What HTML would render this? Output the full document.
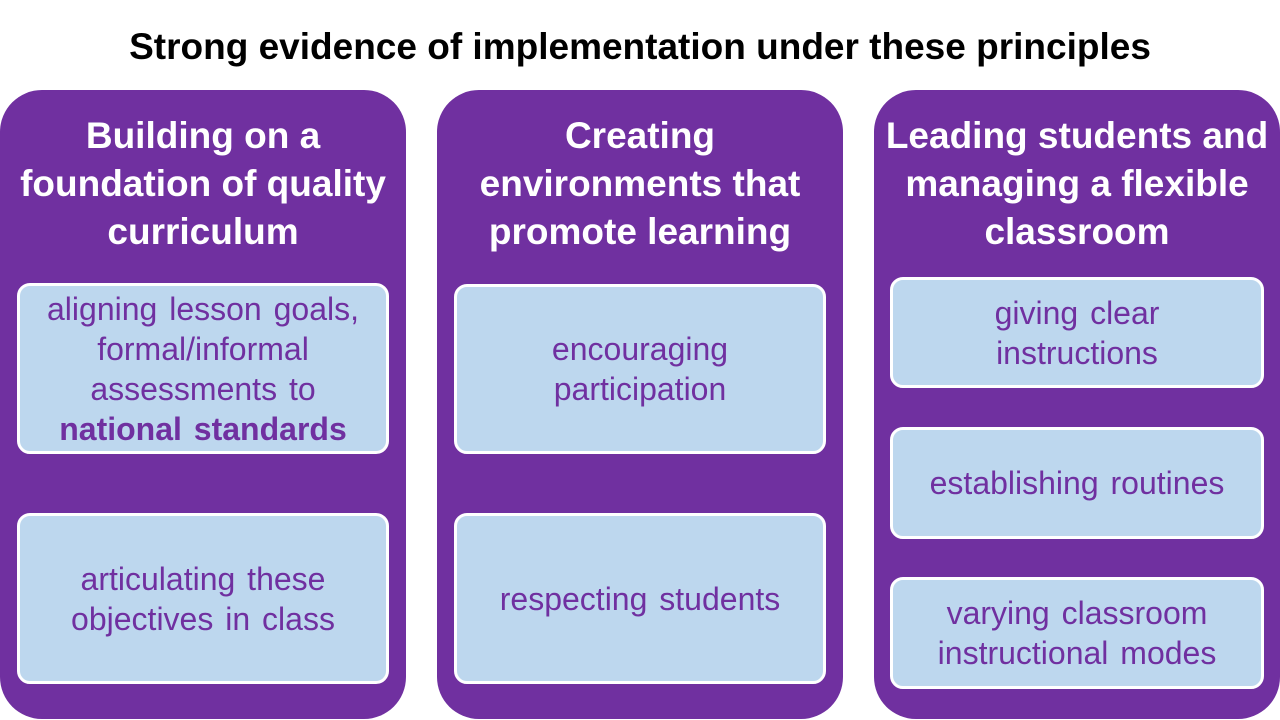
<!DOCTYPE html>
<html><head><meta charset="utf-8"><style>
body{margin:0;width:1280px;height:720px;background:#fff;position:relative;overflow:hidden;font-family:"Liberation Sans",sans-serif}
.t{position:absolute;left:0;width:1280px;top:26px;text-align:center;font-weight:bold;font-size:37px;line-height:42px;color:#000}
.col{position:absolute;top:90px;width:406px;height:629px;background:#7030A0;border-radius:42px}
.h{position:absolute;left:0;width:100%;top:112px;text-align:center;color:#fff;font-weight:bold;font-size:37px;line-height:48px;white-space:nowrap}
.b{position:absolute;background:#BDD7EE;border:3px solid #fff;border-radius:13px;box-sizing:border-box;display:flex;align-items:center;justify-content:center;text-align:center;color:#7030A0;font-size:32px;line-height:40px;word-spacing:3px;white-space:nowrap}
</style></head><body>
<div class="t">Strong evidence of implementation under these principles</div>
<div class="col" style="left:0"></div>
<div class="col" style="left:437px"></div>
<div class="col" style="left:874px"></div>
<div class="h" style="left:0;width:406px">Building on a<br>foundation of quality<br>curriculum</div>
<div class="h" style="left:437px;width:406px">Creating<br>environments that<br>promote learning</div>
<div class="h" style="left:874px;width:406px">Leading students and<br>managing a flexible<br>classroom</div>
<div class="b" style="left:17px;top:283px;width:372px;height:171px"><div>aligning lesson goals,<br>formal/informal<br>assessments to<br><b>national standards</b></div></div>
<div class="b" style="left:17px;top:513px;width:372px;height:171px"><div>articulating these<br>objectives in class</div></div>
<div class="b" style="left:454px;top:284px;width:372px;height:170px"><div>encouraging<br>participation</div></div>
<div class="b" style="left:454px;top:513px;width:372px;height:171px"><div>respecting students</div></div>
<div class="b" style="left:890px;top:277px;width:374px;height:111px"><div>giving clear<br>instructions</div></div>
<div class="b" style="left:890px;top:427px;width:374px;height:112px"><div>establishing routines</div></div>
<div class="b" style="left:890px;top:577px;width:374px;height:112px"><div>varying classroom<br>instructional modes</div></div>
</body></html>
